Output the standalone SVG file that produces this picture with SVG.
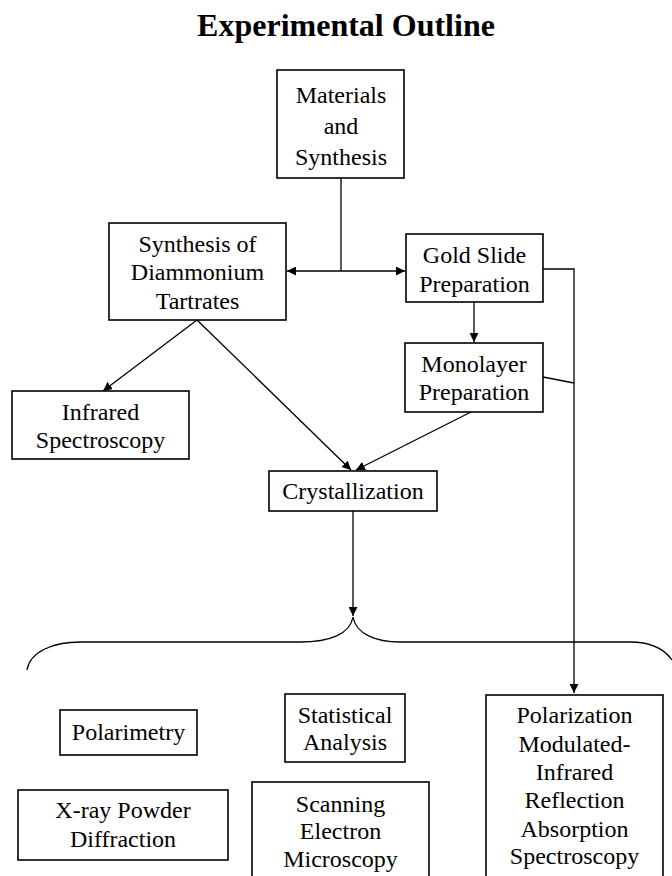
<svg xmlns="http://www.w3.org/2000/svg" width="672" height="876" viewBox="0 0 672 876">
<style>
.box{fill:#fff;stroke:#000;stroke-width:1.6}
.t{font-family:"Liberation Serif","Times New Roman",serif;font-size:24px;fill:#000;text-anchor:middle}
.title{font-family:"Liberation Serif","Times New Roman",serif;font-size:32px;font-weight:bold;fill:#000;text-anchor:middle}
.ln{fill:none;stroke:#000;stroke-width:1.3}
</style>
<defs>
<marker id="ah" viewBox="0 0 10 10" refX="10" refY="5" markerWidth="9" markerHeight="9" markerUnits="userSpaceOnUse" orient="auto">
<path d="M0,0 L10,5 L0,10 z" fill="#000"/>
</marker>
</defs>
<rect width="672" height="876" fill="#fff"/>
<text class="title" x="346" y="36">Experimental Outline</text>

<g id="connectors">
<path class="ln" d="M341,178 V271"/>
<path class="ln" d="M341,271 H287" marker-end="url(#ah)"/>
<path class="ln" d="M341,271 H405" marker-end="url(#ah)"/>
<path class="ln" d="M543,269 H574 V693" marker-end="url(#ah)"/>
<path class="ln" d="M474,302 V342" marker-end="url(#ah)"/>
<path class="ln" d="M543,377 L574,383"/>
<path class="ln" d="M197,320 L103,391" marker-end="url(#ah)"/>
<path class="ln" d="M197,320 L351,470" marker-end="url(#ah)"/>
<path class="ln" d="M471,412 L356,470" marker-end="url(#ah)"/>
<path class="ln" d="M353,511 V616" marker-end="url(#ah)"/>
<path class="ln" d="M27,670 C30,652 52,642 81,642 L300,642 C330,642 350,634 353,617 C356,634 376,642 400,642 L630,642 C652,642 665,650 672,660" stroke-width="1.6"/>
</g>

<g id="materials">
<rect class="box" x="277" y="70" width="127" height="108"/>
<text class="t" x="341" y="103">Materials</text>
<text class="t" x="341" y="134">and</text>
<text class="t" x="341" y="165">Synthesis</text>
</g>
<g id="synthesis">
<rect class="box" x="109" y="223" width="177" height="97"/>
<text class="t" x="197.5" y="252">Synthesis of</text>
<text class="t" x="197.5" y="280">Diammonium</text>
<text class="t" x="197.5" y="309">Tartrates</text>
</g>
<g id="gold">
<rect class="box" x="406" y="234" width="137" height="68"/>
<text class="t" x="474.5" y="263">Gold Slide</text>
<text class="t" x="474.5" y="292">Preparation</text>
</g>
<g id="monolayer">
<rect class="box" x="405" y="343" width="138" height="69"/>
<text class="t" x="474" y="372">Monolayer</text>
<text class="t" x="474" y="400">Preparation</text>
</g>
<g id="infrared">
<rect class="box" x="12" y="391" width="177" height="68"/>
<text class="t" x="100.5" y="420">Infrared</text>
<text class="t" x="100.5" y="448">Spectroscopy</text>
</g>
<g id="crystallization">
<rect class="box" x="269" y="471" width="168" height="40"/>
<text class="t" x="353" y="499">Crystallization</text>
</g>
<g id="polarimetry">
<rect class="box" x="60" y="710" width="137" height="45"/>
<text class="t" x="128.5" y="740">Polarimetry</text>
</g>
<g id="statistical">
<rect class="box" x="285" y="694" width="120" height="68"/>
<text class="t" x="345" y="723">Statistical</text>
<text class="t" x="345" y="750">Analysis</text>
</g>
<g id="pmirras">
<rect class="box" x="486" y="695" width="177" height="200"/>
<text class="t" x="574.5" y="723">Polarization</text>
<text class="t" x="574.5" y="752">Modulated-</text>
<text class="t" x="574.5" y="780">Infrared</text>
<text class="t" x="574.5" y="808">Reflection</text>
<text class="t" x="574.5" y="837">Absorption</text>
<text class="t" x="574.5" y="864">Spectroscopy</text>
</g>
<g id="xray">
<rect class="box" x="18" y="790" width="210" height="70"/>
<text class="t" x="123" y="818">X-ray Powder</text>
<text class="t" x="123" y="847">Diffraction</text>
</g>
<g id="sem">
<rect class="box" x="252" y="782" width="177" height="110"/>
<text class="t" x="340.5" y="812">Scanning</text>
<text class="t" x="340.5" y="839">Electron</text>
<text class="t" x="340.5" y="867">Microscopy</text>
</g>
</svg>
